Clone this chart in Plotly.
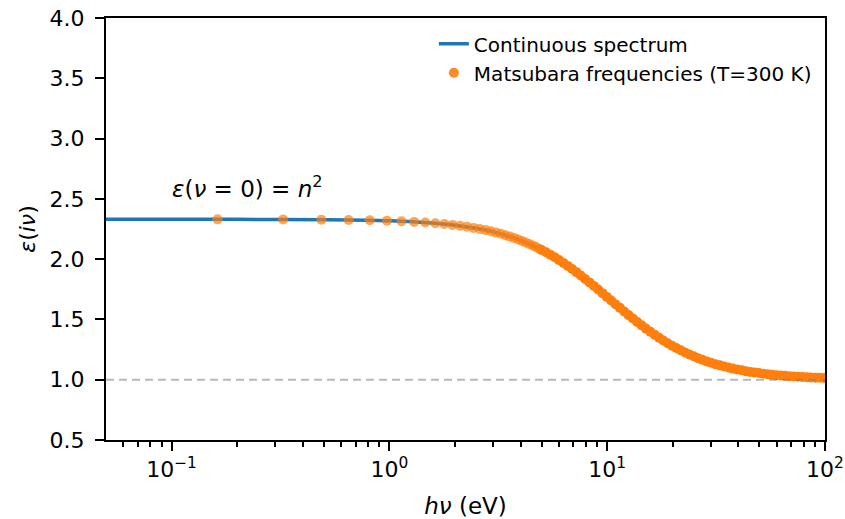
import plotly.graph_objects as go

# Continuous spectrum
cont_x = [0.05, 0.1, 0.2, 0.5, 1, 1.5, 2, 2.5, 3, 4, 5, 6, 7, 8, 9, 10, 11, 12, 14, 16, 18,
          20, 23, 26, 30, 35, 40, 50, 60, 70, 80, 90, 100]
cont_y = [2.330, 2.330, 2.330, 2.327, 2.318, 2.302, 2.282, 2.256, 2.226, 2.156, 2.076, 1.993,
          1.910, 1.830, 1.754, 1.685, 1.621, 1.564, 1.467, 1.390, 1.328, 1.279, 1.222, 1.180,
          1.140, 1.106, 1.083, 1.054, 1.038, 1.028, 1.022, 1.017, 1.014]

# Matsubara frequencies (T=300 K)
mats_x = [0.1625, 0.325, 0.4875, 0.65, 0.8125, 0.975, 1.1375, 1.3, 1.4625, 1.625, 1.7875, 1.95,
          2.1125, 2.275, 2.4375, 2.6, 2.7625, 2.925, 3.0875, 3.25, 3.4125, 3.575, 3.7375, 3.9,
          4.0625, 4.225, 4.3875, 4.55, 4.7125, 4.875,
          5.0, 5.24, 5.48, 5.74, 6.01, 6.29, 6.59, 6.90, 7.22, 7.56, 7.92, 8.29, 8.68, 9.09,
          9.51, 9.96, 10.43, 10.92, 11.43, 11.97, 12.53, 13.12, 13.74, 14.38, 15.06, 15.77,
          16.51, 17.28, 18.10, 18.95, 19.84, 20.77, 21.75, 22.77, 23.84, 24.96, 26.13, 27.36,
          28.65, 30.0, 31.4, 32.9, 34.4, 36.0, 37.7, 39.5, 41.4, 43.3, 45.3, 47.5, 49.7, 52.0,
          54.5, 57.0, 59.7, 62.5, 65.5, 68.5, 71.8, 75.1, 78.7, 82.4, 86.2, 90.3, 94.5, 99.0]
mats_y = [2.330, 2.329, 2.327, 2.325, 2.322, 2.318, 2.314, 2.309, 2.304, 2.298, 2.291, 2.284,
          2.276, 2.268, 2.259, 2.250, 2.241, 2.231, 2.220, 2.210, 2.198, 2.187, 2.175, 2.163,
          2.151, 2.138, 2.126, 2.113, 2.100, 2.087,
          2.076, 2.057, 2.037, 2.015, 1.992, 1.969, 1.944, 1.918, 1.892, 1.864, 1.836, 1.807,
          1.778, 1.748, 1.718, 1.687, 1.657, 1.626, 1.596, 1.566, 1.536, 1.507, 1.479, 1.451,
          1.424, 1.398, 1.373, 1.349, 1.325, 1.303, 1.282, 1.263, 1.244, 1.226, 1.209, 1.194,
          1.179, 1.165, 1.152, 1.140, 1.129, 1.119, 1.109, 1.101, 1.092, 1.085, 1.078, 1.071,
          1.065, 1.060, 1.055, 1.050, 1.046, 1.042, 1.038, 1.035, 1.032, 1.029, 1.027, 1.025,
          1.022, 1.020, 1.019, 1.017, 1.016, 1.014]

vacuum_level = 1.0
n_squared_label_pos = (0.1, 2.5)

x_tick_vals = [0.1, 1, 10, 100]
x_tick_text = ["10<sup>−1</sup>", "10<sup>0</sup>", "10<sup>1</sup>", "10<sup>2</sup>"]
x_minor_vals = [0.06, 0.07, 0.08, 0.09, 0.2, 0.3, 0.4, 0.5, 0.6, 0.7, 0.8, 0.9,
                2, 3, 4, 5, 6, 7, 8, 9, 20, 30, 40, 50, 60, 70, 80, 90]
y_tick_vals = [0.5, 1.0, 1.5, 2.0, 2.5, 3.0, 3.5, 4.0]

FONT = "DejaVu Sans"

# beyond ~5 eV the real Matsubara markers overlap into a saturated band
mats_opacity = [0.7 if x < 5 else 1.0 for x in mats_x]

fig = go.Figure()
fig.add_trace(go.Scatter(
    x=cont_x, y=cont_y, mode="lines", name="Continuous spectrum",
    line=dict(color="#1f77b4", width=3.5, shape="spline"),
))
fig.add_trace(go.Scatter(
    x=mats_x, y=mats_y, mode="markers", name="Matsubara frequencies (T=300 K)",
    marker=dict(color="#ff7f0e", opacity=mats_opacity, size=10, line=dict(width=0)),
))

fig.add_shape(type="line", xref="paper", x0=0, x1=1, yref="y", y0=vacuum_level, y1=vacuum_level,
              line=dict(color="rgba(128,128,128,0.55)", width=2, dash="8px,5px"), layer="above")

fig.add_annotation(
    x=-1, y=n_squared_label_pos[1], xref="x", yref="y",
    text="<i>ε</i>(<i>ν</i> = 0) = <i>n</i><sup>2</sup>",
    showarrow=False, xanchor="left", yanchor="bottom", yshift=-5, xshift=-2,
    font=dict(family=FONT, size=23, color="black"),
)

axis_common = dict(
    showline=True, linecolor="black", linewidth=2, mirror=True,
    ticks="outside", ticklen=9, tickwidth=2, tickcolor="black",
    showgrid=False, zeroline=False, automargin=False,
    tickfont=dict(family=FONT, size=22, color="black"),
)

fig.update_xaxes(
    type="log", range=[-1.30103, 2],
    tickvals=x_tick_vals, ticktext=x_tick_text,
    minor=dict(tickvals=x_minor_vals, ticks="outside", ticklen=5, tickwidth=1.5, tickcolor="black"),
    title=dict(text="<i>hν</i> (eV)", font=dict(family=FONT, size=23, color="black"), standoff=16),
    **axis_common,
)
fig.update_yaxes(
    range=[0.5, 4.0], tickvals=y_tick_vals, tickformat=".1f",
    ticklabelstandoff=6,
    title=dict(text="<i>ε</i>(<i>iν</i>)", font=dict(family=FONT, size=22, color="black"), standoff=8),
    **axis_common,
)

fig.update_layout(
    width=845, height=519,
    margin=dict(l=106, r=20, t=18, b=79),
    plot_bgcolor="white", paper_bgcolor="white",
    font=dict(family=FONT, size=20, color="black"),
    legend=dict(x=0.456, y=0.985, xanchor="left", yanchor="top",
                bgcolor="rgba(255,255,255,0)", borderwidth=0,
                font=dict(family=FONT, size=20, color="black"),
                tracegroupgap=0),
    showlegend=True,
)

fig.write_html("out.html")
